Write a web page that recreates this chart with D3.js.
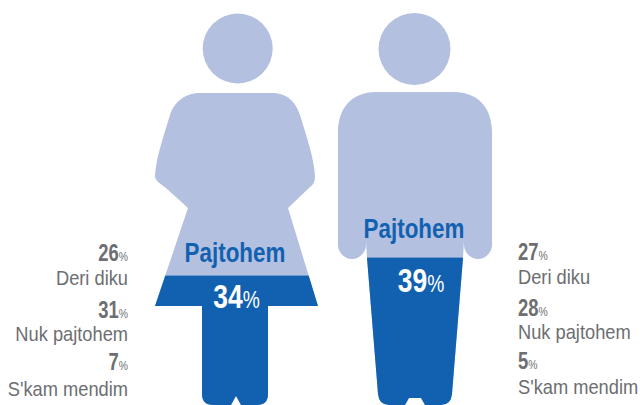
<!DOCTYPE html>
<html>
<head>
<meta charset="utf-8">
<script src="https://cdn.jsdelivr.net/npm/d3@7"></script>
<style>
html, body { margin: 0; padding: 0; background: #fff; }
svg { display: block; }
text { font-family: "Liberation Sans", sans-serif; }
</style>
</head>
<body>
<div id="chart"></div>
<script>
var width = 640;
var height = 405;

var agreeLabel = "Pajtohem";
var agreeValues = [34, 39];
var responseLabels = ["Deri diku", "Nuk pajtohem", "S'kam mendim"];
var womanValues = [26, 31, 7];
var manValues = [27, 28, 5];

var LIGHT = "#b3c0e0";
var DARK = "#1261b0";
var GREY = "#6d6e71";

// the reference uses a condensed face, none is installed so squeeze the text
var SQUEEZE = 0.8;
var SQUEEZE_LIST = 0.87;

// fill level of the pictograms
var level = d3.scaleLinear().domain([0, 100]).range([398, 38]);

// silhouettes
var womanBody = "M202,93 L272,93 C288,93 296,103 300,115 C307,138 314,158 315,176 C315,182 313,185 309,188 L288,208 L318,306 L268,306 L268,394 Q268,405 257,405 L241,405 L236,396 L231,405 L213,405 Q202,405 202,394 L202,306 L155,306 L188,208 L166,188 C159,183 155,180 155,176 C156,158 163,138 170,115 C174,103 184,93 200,93 Z";
var manBody = "M376,92 L454,92 C478,92 492,108 492,132 L492,240 L464,240 L463,258 L452,394 Q451,405 441,405 L425,405 L421,398 L409,398 L405,405 L389,405 Q379,405 378,394 L367,258 L366,240 L338,240 L338,132 C338,108 352,92 376,92 Z";
var manArms = "M338,235 L366,235 L366,245 C366,253 359,259 352,259 C345,259 338,253 338,245 Z M464,235 L492,235 L492,245 C492,253 485,259 478,259 C471,259 464,253 464,245 Z";

var svg = d3.select("#chart").append("svg")
    .attr("width", width)
    .attr("height", height);

var figures = [
    { id: "woman", body: womanBody, arms: null, cx: 237.7, cy: 48.5, r: 35, value: agreeValues[0], labelX: 235, labelY: 262, valueX: 236.5, valueY: 308 },
    { id: "man", body: manBody, arms: manArms, cx: 414.5, cy: 49, r: 36, value: agreeValues[1], labelX: 414, labelY: 238, valueX: 421, valueY: 292 }
];

// text that keeps its anchor point while squeezed horizontally
function squeezed(parent, x, y, anchor, k) {
    return parent.append("text")
        .attr("transform", `translate(${x},${y}) scale(${k},1)`)
        .attr("text-anchor", anchor);
}

figures.forEach(function(f) {
    var g = svg.append("g");

    g.append("circle")
        .attr("cx", f.cx)
        .attr("cy", f.cy)
        .attr("r", f.r)
        .style("fill", LIGHT);

    g.append("path")
        .attr("d", f.body)
        .style("fill", LIGHT);

    g.append("clipPath")
        .attr("id", "clip-" + f.id)
        .append("path")
        .attr("d", f.body);

    g.append("rect")
        .attr("x", 0)
        .attr("y", level(f.value))
        .attr("width", width)
        .attr("height", height - level(f.value))
        .attr("clip-path", "url(#clip-" + f.id + ")")
        .style("fill", DARK);

    if (f.arms) {
        g.append("path")
            .attr("d", f.arms)
            .style("fill", LIGHT);
    }

    squeezed(g, f.labelX, f.labelY, "middle", SQUEEZE)
        .style("font-size", "28px")
        .style("font-weight", "bold")
        .style("fill", DARK)
        .text(agreeLabel);

    var pct = squeezed(g, f.valueX, f.valueY, "middle", SQUEEZE)
        .style("fill", "#fff");
    pct.append("tspan")
        .style("font-size", "33px")
        .style("font-weight", "bold")
        .text(f.value);
    pct.append("tspan")
        .style("font-size", "24px")
        .text("%");
});

// side lists
var womanNumberY = [261, 318, 370];
var womanLabelY = [285, 341, 396];
var manNumberY = [260, 316, 369];
var manLabelY = [284, 339, 394];

function drawList(values, x, anchor, numberY, labelY) {
    values.forEach(function(d, i) {
        var num = squeezed(svg, x, numberY[i], anchor, SQUEEZE)
            .style("fill", GREY);
        num.append("tspan")
            .style("font-size", "23px")
            .style("font-weight", "bold")
            .text(d);
        num.append("tspan")
            .style("font-size", "13px")
            .text("%");

        squeezed(svg, x, labelY[i], anchor, SQUEEZE_LIST)
            .style("font-size", "21px")
            .style("fill", GREY)
            .text(responseLabels[i]);
    });
}

drawList(womanValues, 128, "end", womanNumberY, womanLabelY);
drawList(manValues, 518, "start", manNumberY, manLabelY);
</script>
</body>
</html>
